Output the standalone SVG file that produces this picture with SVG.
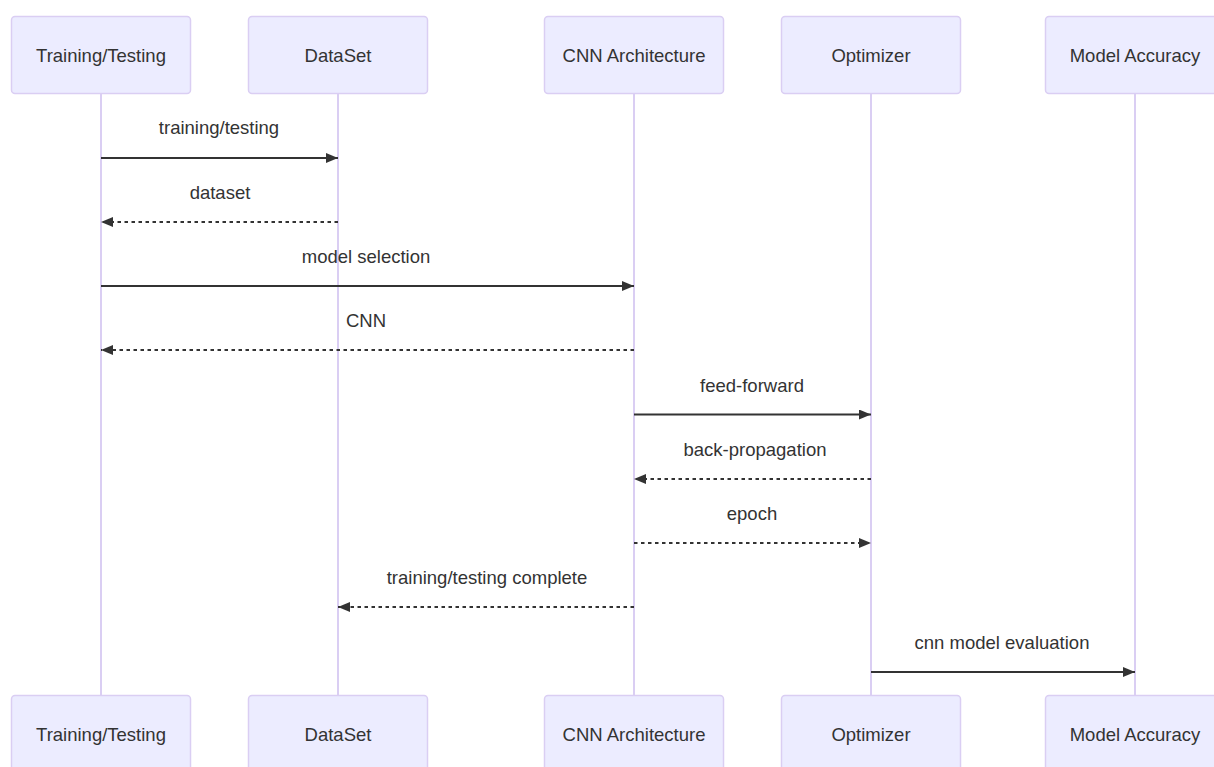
<svg xmlns="http://www.w3.org/2000/svg" width="1214" height="767" viewBox="0 0 1214 767">
<style>
.actor{fill:#ECECFF;stroke:#DACEF3;stroke-width:1.5}
.atext{font-family:"Liberation Sans",Arial,sans-serif;font-size:18.5px;fill:#333;text-anchor:middle;dominant-baseline:central}
.life{stroke:#DACEF3;stroke-width:2}
.msg{stroke:#333;stroke-width:2;fill:none}
.dash{stroke-dasharray:3.5,3.5}
.mtext{font-family:"Liberation Sans",Arial,sans-serif;font-size:18.5px;fill:#333;text-anchor:middle}
</style>
<defs>
<marker id="ah" viewBox="0 0 12 10" refX="12" refY="5" markerWidth="12" markerHeight="10" markerUnits="userSpaceOnUse" orient="auto">
<path d="M0,0 L12,5 L0,10 z" fill="#333"/>
</marker>
</defs>
<rect width="1214" height="767" fill="#fff"/>
<g id="lifelines">
<line class="life" x1="101" y1="94" x2="101" y2="695"/>
<line class="life" x1="338" y1="94" x2="338" y2="695"/>
<line class="life" x1="634" y1="94" x2="634" y2="695"/>
<line class="life" x1="871" y1="94" x2="871" y2="695"/>
<line class="life" x1="1135" y1="94" x2="1135" y2="695"/>
</g>
<g id="actor-training">
<rect class="actor" x="11.5" y="16.5" width="179" height="77" rx="3.5"/>
<text class="atext" x="101" y="55">Training/Testing</text>
<rect class="actor" x="11.5" y="695.5" width="179" height="77" rx="3.5"/>
<text class="atext" x="101" y="734">Training/Testing</text>
</g>
<g id="actor-dataset">
<rect class="actor" x="248.5" y="16.5" width="179" height="77" rx="3.5"/>
<text class="atext" x="338" y="55">DataSet</text>
<rect class="actor" x="248.5" y="695.5" width="179" height="77" rx="3.5"/>
<text class="atext" x="338" y="734">DataSet</text>
</g>
<g id="actor-cnn">
<rect class="actor" x="544.5" y="16.5" width="179" height="77" rx="3.5"/>
<text class="atext" x="634" y="55">CNN Architecture</text>
<rect class="actor" x="544.5" y="695.5" width="179" height="77" rx="3.5"/>
<text class="atext" x="634" y="734">CNN Architecture</text>
</g>
<g id="actor-optimizer">
<rect class="actor" x="781.5" y="16.5" width="179" height="77" rx="3.5"/>
<text class="atext" x="871" y="55">Optimizer</text>
<rect class="actor" x="781.5" y="695.5" width="179" height="77" rx="3.5"/>
<text class="atext" x="871" y="734">Optimizer</text>
</g>
<g id="actor-accuracy">
<rect class="actor" x="1045.5" y="16.5" width="179" height="77" rx="3.5"/>
<text class="atext" x="1135" y="55">Model Accuracy</text>
<rect class="actor" x="1045.5" y="695.5" width="179" height="77" rx="3.5"/>
<text class="atext" x="1135" y="734">Model Accuracy</text>
</g>
<g id="connectors">
<text class="mtext" x="219" y="134">training/testing</text>
<line class="msg" x1="101" y1="158" x2="338" y2="158" marker-end="url(#ah)"/>
<text class="mtext" x="220" y="199">dataset</text>
<line class="msg dash" x1="338" y1="222" x2="101" y2="222" marker-end="url(#ah)"/>
<text class="mtext" x="366" y="263">model selection</text>
<line class="msg" x1="101" y1="286" x2="634" y2="286" marker-end="url(#ah)"/>
<text class="mtext" x="366" y="327">CNN</text>
<line class="msg dash" x1="634" y1="350" x2="101" y2="350" marker-end="url(#ah)"/>
<text class="mtext" x="752" y="392">feed-forward</text>
<line class="msg" x1="634" y1="414.5" x2="871" y2="414.5" marker-end="url(#ah)"/>
<text class="mtext" x="755" y="456">back-propagation</text>
<line class="msg dash" x1="871" y1="479" x2="634" y2="479" marker-end="url(#ah)"/>
<text class="mtext" x="752" y="520">epoch</text>
<line class="msg dash" x1="634" y1="543" x2="871" y2="543" marker-end="url(#ah)"/>
<text class="mtext" x="487" y="584">training/testing complete</text>
<line class="msg dash" x1="634" y1="607" x2="338" y2="607" marker-end="url(#ah)"/>
<text class="mtext" x="1002" y="649">cnn model evaluation</text>
<line class="msg" x1="871" y1="672" x2="1135" y2="672" marker-end="url(#ah)"/>
</g>
</svg>
